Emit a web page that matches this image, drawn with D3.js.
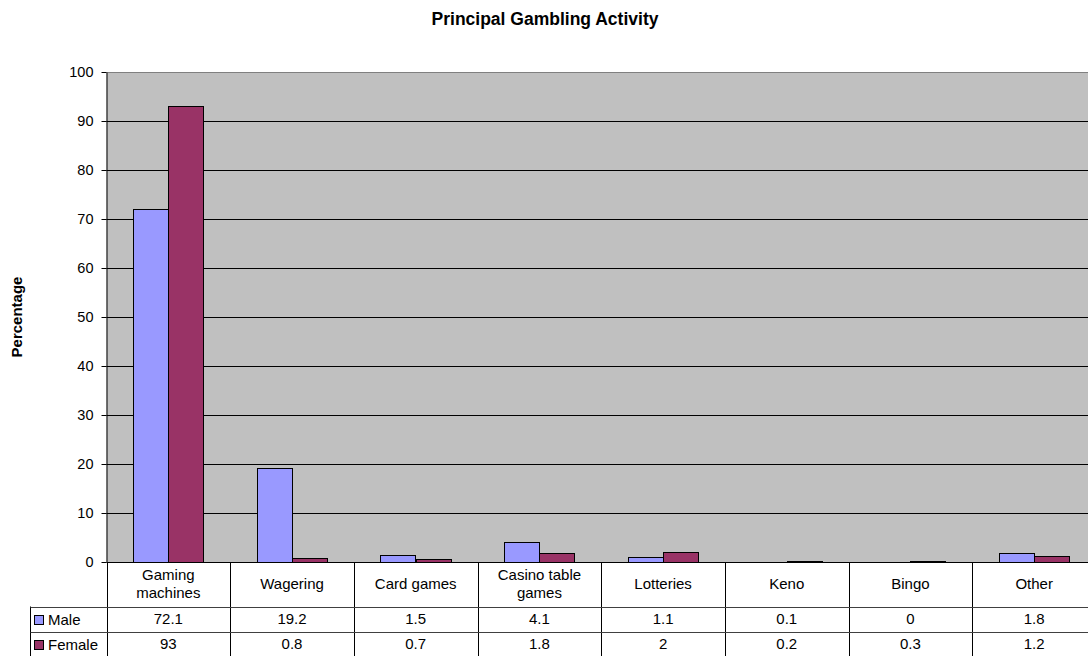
<!DOCTYPE html>
<html>
<head>
<meta charset="utf-8">
<script src="https://cdn.jsdelivr.net/npm/d3@7"></script>
<style>
  body { margin: 0; background: #fff; }
  svg { display: block; }
  svg text { font-family: Arial, "Liberation Sans", sans-serif; }
</style>
</head>
<body>
<svg id="chart" width="1088" height="656"></svg>
<script>
// data
const categories = ["Gaming machines", "Wagering", "Card games", "Casino table games", "Lotteries", "Keno", "Bingo", "Other"];
const seriesNames = ["Male", "Female"];
const male = [72.1, 19.2, 1.5, 4.1, 1.1, 0.1, 0, 1.8];
const female = [93, 0.8, 0.7, 1.8, 2, 0.2, 0.3, 1.2];
const yTicks = [0, 10, 20, 30, 40, 50, 60, 70, 80, 90, 100];

const colors = ["#9999FF", "#993366"];
const values = [male, female];

// layout
const plot = {left: 106.5, right: 1096, top: 72, bottom: 562};
const rowH = 25, catRowH = 44.5, legendLeft = 30.5;
const fs = 15;

const svg = d3.select("#chart");

let x = d3.scaleBand()
    .domain(categories)
    .range([plot.left, plot.right])
    .padding(0);

let xs = d3.scaleBand()
    .domain(seriesNames)
    .range([0, x.bandwidth()])
    .paddingInner(0)
    .paddingOuter(0.75);

let y = d3.scaleLinear()
    .domain([0, 100])
    .range([plot.bottom, plot.top]);

// plot background
svg.append("rect")
    .attr("x", plot.left)
    .attr("y", plot.top)
    .attr("width", plot.right - plot.left)
    .attr("height", plot.bottom - plot.top)
    .attr("fill", "#C0C0C0");

svg.append("line")
    .attr("x1", plot.left).attr("x2", plot.right)
    .attr("y1", plot.top + 0.5).attr("y2", plot.top + 0.5)
    .attr("stroke", "#808080");

// gridlines
svg.append("g")
    .selectAll("line")
    .data(yTicks.slice(1, -1))
    .join("line")
    .attr("x1", plot.left).attr("x2", plot.right)
    .attr("y1", d => Math.round(y(d)) + 0.5)
    .attr("y2", d => Math.round(y(d)) + 0.5)
    .attr("stroke", "#000");

// bars
svg.append("g")
    .selectAll("g")
    .data(seriesNames)
    .join("g")
    .attr("fill", (d, i) => colors[i])
    .selectAll("rect")
    .data((d, i) => values[i].map((v, j) => ({cat: categories[j], s: d, v: v})))
    .join("rect")
    .attr("x", d => Math.round(x(d.cat) + xs(d.s)) + 0.5)
    .attr("y", d => Math.round(y(d.v)) + 0.5)
    .attr("width", Math.round(xs.bandwidth()))
    .attr("height", d => Math.round(y(0)) - Math.round(y(d.v)))
    .attr("stroke", "#000")
    .attr("stroke-width", 1);

// y axis
let yAxis = g => g
    .attr("transform", `translate(${plot.left},0)`)
    .call(d3.axisLeft(y).tickValues(yTicks).tickSize(5).tickPadding(8).tickSizeOuter(0))
    .attr("font-family", null)
    .call(g => g.selectAll("text").attr("font-size", 14.5).attr("fill", "#000"))
    .call(g => g.selectAll("line,path").attr("stroke", "#000"));

svg.append("g").call(yAxis);

// x axis / top of data table
svg.append("line")
    .attr("x1", plot.left).attr("x2", plot.right)
    .attr("y1", plot.bottom + 0.5).attr("y2", plot.bottom + 0.5)
    .attr("stroke", "#000");

// data table
const tableBottom = plot.bottom + catRowH + 2 * rowH + 2;
const row1 = plot.bottom + catRowH, row2 = row1 + rowH;

const table = svg.append("g");

table.selectAll("line.v")
    .data(categories.concat(["end"]))
    .join("line")
    .attr("class", "v")
    .attr("x1", (d, i) => Math.round(plot.left + i * x.step()) + 0.5)
    .attr("x2", (d, i) => Math.round(plot.left + i * x.step()) + 0.5)
    .attr("y1", plot.bottom)
    .attr("y2", tableBottom)
    .attr("stroke", "#000");

table.append("line")
    .attr("x1", legendLeft).attr("x2", legendLeft)
    .attr("y1", row1).attr("y2", tableBottom)
    .attr("stroke", "#000");

table.selectAll("line.h")
    .data([row1, row2, row2 + rowH])
    .join("line")
    .attr("class", "h")
    .attr("x1", legendLeft).attr("x2", plot.right)
    .attr("y1", d => Math.round(d) + 0.5)
    .attr("y2", d => Math.round(d) + 0.5)
    .attr("stroke", "#404040");

// category labels (wrapped)
function wrap(text, maxW) {
    text.each(function () {
        const t = d3.select(this);
        const words = t.text().split(" ");
        t.text(null);
        let lines = [], cur = [];
        const probe = t.append("tspan");
        words.forEach(w => {
            cur.push(w);
            probe.text(cur.join(" "));
            if (probe.node().getComputedTextLength() > maxW && cur.length > 1) {
                cur.pop();
                lines.push(cur.join(" "));
                cur = [w];
            }
        });
        lines.push(cur.join(" "));
        probe.remove();
        const lh = 18;
        const y0 = +t.attr("y") - (lines.length - 1) * lh / 2;
        lines.forEach((l, i) => {
            t.append("tspan").attr("x", t.attr("x")).attr("y", y0 + i * lh).text(l);
        });
    });
}

table.selectAll("text.cat")
    .data(categories)
    .join("text")
    .attr("class", "cat")
    .attr("x", d => x(d) + x.bandwidth() / 2)
    .attr("y", plot.bottom + catRowH / 2 + 5)
    .attr("text-anchor", "middle")
    .attr("font-size", fs)
    .text(d => d)
    .call(wrap, 100);

// values rows
seriesNames.forEach((s, i) => {
    const rowTop = i === 0 ? row1 : row2;
    table.append("g")
        .selectAll("text")
        .data(values[i])
        .join("text")
        .attr("x", (d, j) => x(categories[j]) + x.bandwidth() / 2)
        .attr("y", rowTop + rowH / 2 + 5)
        .attr("text-anchor", "middle")
        .attr("font-size", fs)
        .text(d => d);

    table.append("rect")
        .attr("x", 34.5)
        .attr("y", Math.round(rowTop + rowH / 2 - 4) + 0.5)
        .attr("width", 9)
        .attr("height", 9)
        .attr("fill", colors[i])
        .attr("stroke", "#000");

    table.append("text")
        .attr("x", 48)
        .attr("y", rowTop + rowH / 2 + 6)
        .attr("font-size", fs)
        .text(s);
});

// title and y label
svg.append("text")
    .attr("x", 545)
    .attr("y", 25)
    .attr("text-anchor", "middle")
    .attr("font-size", 17.5)
    .attr("font-weight", "bold")
    .text("Principal Gambling Activity");

svg.append("text")
    .attr("transform", `translate(22,${(plot.top + plot.bottom) / 2}) rotate(-90)`)
    .attr("text-anchor", "middle")
    .attr("font-size", 15)
    .attr("font-weight", "bold")
    .text("Percentage");
</script>
</body>
</html>
